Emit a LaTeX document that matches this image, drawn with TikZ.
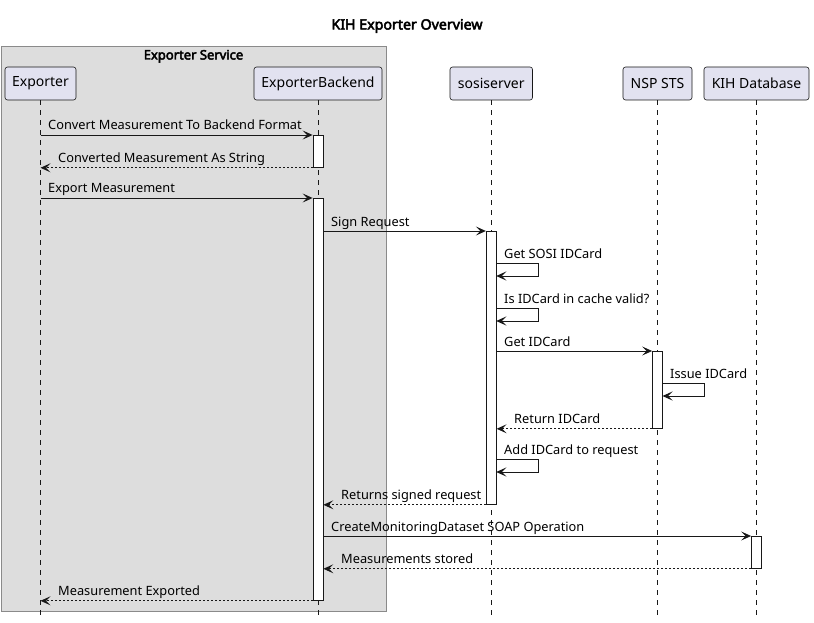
\documentclass[tikz,border=0pt]{standalone}
\usepackage{fontspec}
\setmainfont{Noto Sans}
\newfontfamily\boldface{Noto Sans}[FakeBold=3.5]
\usetikzlibrary{arrows.meta}
\definecolor{partfill}{HTML}{E2E2F0}
\definecolor{ink}{HTML}{181818}
\definecolor{boxfill}{HTML}{DDDDDD}
\definecolor{boxline}{HTML}{8A8A8A}
\begin{document}
\begin{tikzpicture}[x=1pt,y=-1pt,
  part/.style={draw=ink, fill=partfill, rounded corners=2.5pt, line width=0.6pt, minimum height=33pt, inner sep=0pt, font=\fontsize{14}{16}\selectfont},
  act/.style={draw=ink, fill=white, line width=0.8pt, minimum width=10pt, inner sep=0pt, anchor=north},
  life/.style={draw=ink, line width=0.6pt, dash pattern=on 5pt off 5pt},
  msg/.style={draw=ink, line width=0.9pt, -{Stealth[length=10pt,width=9pt,inset=4.5pt]}},
  ret/.style={msg, dash pattern=on 2pt off 2pt},
  lbl/.style={anchor=base west, inner sep=0pt, font=\fontsize{12.8}{15}\selectfont, text=black}]
\useasboundingbox (0,0) rectangle (814,623);
% cluster
\node[draw=boxline, fill=boxfill, line width=0.9pt, minimum width=385pt, minimum height=565pt, anchor=north west, inner sep=0pt] (svc) at (1,46) {};
\node[anchor=base, inner sep=0pt, font=\boldface\fontsize{13}{15}\selectfont] (svct) at (193.5,59.5) {Exporter Service};
% title
\node[anchor=base, inner sep=0pt, font=\boldface\fontsize{14.2}{16}\selectfont] (title) at (407,29.5) {KIH Exporter Overview};
% participants
\node[part, minimum width=71pt] (pE) at (40.5,83.5) {Exporter};
\node[part, minimum width=128pt] (pB) at (318,83.5) {ExporterBackend};
\node[part, minimum width=82.5pt] (pS) at (491.25,83.5) {sosiserver};
\node[part, minimum width=69pt] (pN) at (657.5,83.5) {NSP STS};
\node[part, minimum width=105pt] (pK) at (756.5,83.5) {KIH Database};
% lifelines
\coordinate (eE) at (40.5,617);
\coordinate (eB) at (318,617);
\coordinate (eS) at (491.25,617);
\coordinate (eN) at (657.5,617);
\coordinate (eK) at (756.5,617);
\draw[life] (pE.south) -- (eE);
\draw[life] (pB.south) -- (eB);
\draw[life] (pS.south) -- (eS);
\draw[life] (pN.south) -- (eN);
\draw[life] (pK.south) -- (eK);
% activations
\node[act, minimum height=32pt] (a1) at (318,135) {};
\node[act, minimum height=402pt] (a2) at (318,198) {};
\node[act, minimum height=273pt] (a3) at (491.25,231) {};
\node[act, minimum height=77pt] (a4) at (657.5,351) {};
\node[act, minimum height=32pt] (a5) at (756.5,536) {};
% messages
\draw[msg] (pE.south |- a1.north) -- (a1.north west);
\node[lbl] (m1) at (48,130) {Convert Measurement To Backend Format};
\draw[ret] (a1.south west) -- (pE.south |- a1.south);
\node[lbl] (m2) at (58,162) {Converted Measurement As String};
\draw[msg] (pE.south |- a2.north) -- (a2.north west);
\node[lbl] (m3) at (48,193) {Export Measurement};
\draw[msg] (a2.east |- a3.north) -- (a3.north west);
\node[lbl] (m4) at (331,226) {Sign Request};
% self: Get SOSI IDCard
\coordinate (s1) at (496.25,263);
\draw[msg] (s1) -- ++(42,0) -- ++(0,13) -- ++(-42,0);
\node[lbl] (m5) at (504,258) {Get SOSI IDCard};
% self: cache valid
\coordinate (s2) at (496.25,308);
\draw[msg] (s2) -- ++(42,0) -- ++(0,13) -- ++(-42,0);
\node[lbl] (m6) at (504,303) {Is IDCard in cache valid?};
% Get IDCard
\draw[msg] (a3.east |- a4.north) -- (a4.north west);
\node[lbl] (m7) at (504,346) {Get IDCard};
% self: Issue IDCard
\coordinate (s3) at (662.5,383);
\draw[msg] (s3) -- ++(42,0) -- ++(0,13) -- ++(-42,0);
\node[lbl] (m8) at (670,378) {Issue IDCard};
% Return IDCard
\draw[ret] (a4.south west) -- (a3.east |- a4.south);
\node[lbl] (m9) at (514,423) {Return IDCard};
% self: Add IDCard
\coordinate (s4) at (496.25,459);
\draw[msg] (s4) -- ++(42,0) -- ++(0,13) -- ++(-42,0);
\node[lbl] (m10) at (504,454) {Add IDCard to request};
% Returns signed request
\draw[ret] (a3.south west) -- (a2.east |- a3.south);
\node[lbl] (m11) at (341,499) {Returns signed request};
% SOAP
\draw[msg] (a2.east |- a5.north) -- (a5.north west);
\node[lbl] (m12) at (331,531) {CreateMonitoringDataset SOAP Operation};
\draw[ret] (a5.south west) -- (a2.east |- a5.south);
\node[lbl] (m13) at (341,563) {Measurements stored};
\draw[ret] (a2.south west) -- (pE.south |- a2.south);
\node[lbl] (m14) at (58,595) {Measurement Exported};
\end{tikzpicture}
\end{document}
